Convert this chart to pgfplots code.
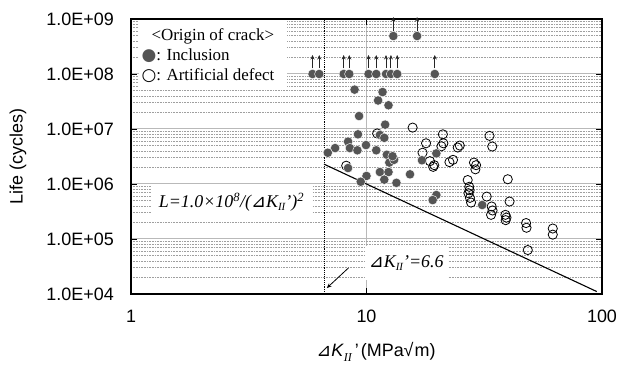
\documentclass[border=0pt]{standalone}
\usepackage{pgfplots}
\pgfplotsset{compat=1.18}
\usepackage{fontspec}
\setmainfont{Liberation Sans}
\newfontfamily\serif{Liberation Serif}
\newfontfamily\dejavu{DejaVu Sans}
\usetikzlibrary{arrows.meta}
\definecolor{incl}{RGB}{85,85,85}
\pgfdeclareplotmark{runout}{%
  \pgfsetlinewidth{0.9bp}%
  \pgfsetarrowsend{Stealth[length=4.5bp,width=4bp]}%
  \pgfpathmoveto{\pgfqpoint{0pt}{5.5bp}}%
  \pgfpathlineto{\pgfqpoint{0pt}{19bp}}%
  \pgfusepath{stroke}}

\pgfplotstableread{
x y
8.9 5.2e7
11.2 3.3e7
11.7 4.7e7
12.4 2.7e7
9.3 1.72e7
12.0 1.2e7
9.2 8.0e6
11.4 7.8e6
11.9 6.9e6
8.35 5.9e6
7.36 4.5e6
6.85 3.7e6
8.5 4.5e6
9.15 4.1e6
9.95 5.1e6
11.0 4.1e6
12.2 3.4e6
12.5 2.45e6
13.1 2.75e6
12.9 3.2e6
8.35 1.95e6
11.4 1.65e6
12.4 1.65e6
11.9 1.2e6
10.0 1.4e6
9.45 1.1e6
13.4 1.05e6
15.3 1.5e6
17.2 2.7e6
19.8 3.6e6
19.8 6.3e5
19.1 5.1e5
31.0 4.15e5
}\inclusion

\pgfplotstableread{
x y
5.9 1e8
6.3 1e8
8.0 1e8
8.45 1e8
10.2 1e8
11.0 1e8
12.1 1e8
12.7 1e8
13.5 1e8
19.5 1e8
13.0 4.9e8
16.4 4.9e8
}\runout

\pgfplotstableread{
x y
8.2 2.15e6
11.1 8.3e6
15.7 1.06e7
21.1 8.0e6
17.9 5.5e6
21.2 5.5e6
20.8 4.85e6
24.4 4.6e6
24.9 5.0e6
17.3 3.7e6
18.6 2.6e6
19.2 2.05e6
19.4 2.2e6
22.5 2.5e6
23.3 2.75e6
28.6 2.45e6
29.2 2.2e6
29.0 1.85e6
33.3 7.5e6
34.2 4.8e6
26.9 1.18e6
27.3 8.9e5
27.4 7.7e5
27.1 6.8e5
27.5 5.6e5
27.8 4.6e5
32.4 5.9e5
34.0 3.9e5
34.3 3.3e5
33.8 2.75e5
39.8 1.22e6
40.5 4.8e5
38.9 2.75e5
39.3 2.45e5
39.0 2.2e5
47.6 1.95e5
47.8 1.6e5
61.8 1.55e5
61.8 1.2e5
48.4 6.3e4
}\artificial

\begin{document}
\begin{tikzpicture}
\begin{axis}[
  scale only axis, width=471bp, height=275bp,
  xmode=log, ymode=log,
  xmin=1, xmax=100, ymin=1e4, ymax=1e9,
  xtick={1,10,100}, xticklabels={1,10,100},
  ytick={1e4,1e5,1e6,1e7,1e8,1e9},
  yticklabels={1.0E+04,1.0E+05,1.0E+06,1.0E+07,1.0E+08,1.0E+09},
  minor ytick={2e4,3e4,4e4,5e4,6e4,7e4,8e4,9e4,2e5,3e5,4e5,5e5,6e5,7e5,8e5,9e5,2e6,3e6,4e6,5e6,6e6,7e6,8e6,9e6,2e7,3e7,4e7,5e7,6e7,7e7,8e7,9e7,2e8,3e8,4e8,5e8,6e8,7e8,8e8,9e8},
  minor xtick={},
  ymajorgrids, yminorgrids, xmajorgrids,
  major grid style={gray!55, line width=1bp},
  minor grid style={gray!75, line width=0.6bp, densely dotted},
  tick align=inside, major tick length=6bp, minor tick length=0bp,
  axis line style={line width=1.2bp},
  tick style={black, line width=0.8bp},
  yticklabel style={font=\fontsize{18}{18}\selectfont, inner sep=0pt, anchor=east, xshift=-17bp},
  xticklabel style={font=\fontsize{18}{18}\selectfont, inner sep=0pt, anchor=north, yshift=-16bp},
  ylabel={Life (cycles)},
  ylabel style={font=\fontsize{18}{18}\selectfont, at={(axis description cs:-0.2399,0.5)}, anchor=center},
  xlabel={{\dejavu ⊿}\textit{K}\raisebox{-0.45ex}{\fontsize{12}{12}\selectfont\serif\itshape II}\hspace{3bp}'\hspace{2bp}(MPa√\hspace{1bp}m)},
  xlabel style={font=\fontsize{18}{18}\selectfont, at={(axis description cs:0.52,-0.211)}, anchor=center},
  clip=false,
]
\addplot[black, densely dotted, line width=0.9bp] coordinates {(6.6,1e4) (6.6,1e9)};
\addplot[black, line width=1.1bp] coordinates {(6.6,2295684) (95,11080)};

\addplot[only marks, mark=o, mark size=4.6bp, mark options={draw=black, line width=0.8bp, fill=none}] table {\artificial};
\addplot[only marks, mark=*, mark size=4.7bp, mark options={fill=incl, draw=white, line width=0.4bp}] table {\inclusion};
\addplot[only marks, mark=*, mark size=4.7bp, mark options={fill=incl, draw=white, line width=0.4bp}] table {\runout};
\addplot[only marks, mark=runout, black!85] table {\runout};

\node[fill=white, anchor=north west, inner xsep=3bp, inner ysep=8bp, align=left,
  font=\serif\fontsize{17}{20}\selectfont] at (rel axis cs:0.0155,0.996)
  {\hspace*{10bp}<Origin of crack>\\{\dejavu\color{incl}●}: Inclusion\\{\dejavu ○}: Artificial defect\hspace*{10bp}};
\node[fill=white, inner xsep=8bp, inner ysep=8bp, font=\serif\itshape\fontsize{18}{18}\selectfont]
  at (axis cs:2.67,4.7e5) {L=1.0×10\textsuperscript{8}/({\upshape\dejavu ⊿}K\raisebox{-0.4ex}{\fontsize{11}{11}\selectfont II}’)\textsuperscript{2}};
\node[fill=white, inner xsep=4bp, inner ysep=9bp, font=\serif\itshape\fontsize{18}{18}\selectfont]
  at (axis cs:14.75,3.66e4) {{\upshape\dejavu ⊿}K\raisebox{-0.4ex}{\fontsize{11}{11}\selectfont II}’=6.6};
\draw[-{Stealth[length=5bp,width=4bp]}, line width=0.8bp] (axis cs:8.4,3.0e4) -- (axis cs:6.78,1.28e4);
\end{axis}
\pgfresetboundingbox
\path[use as bounding box] (-131bp,-73bp) rectangle (488bp,294bp);
\end{tikzpicture}
\end{document}
